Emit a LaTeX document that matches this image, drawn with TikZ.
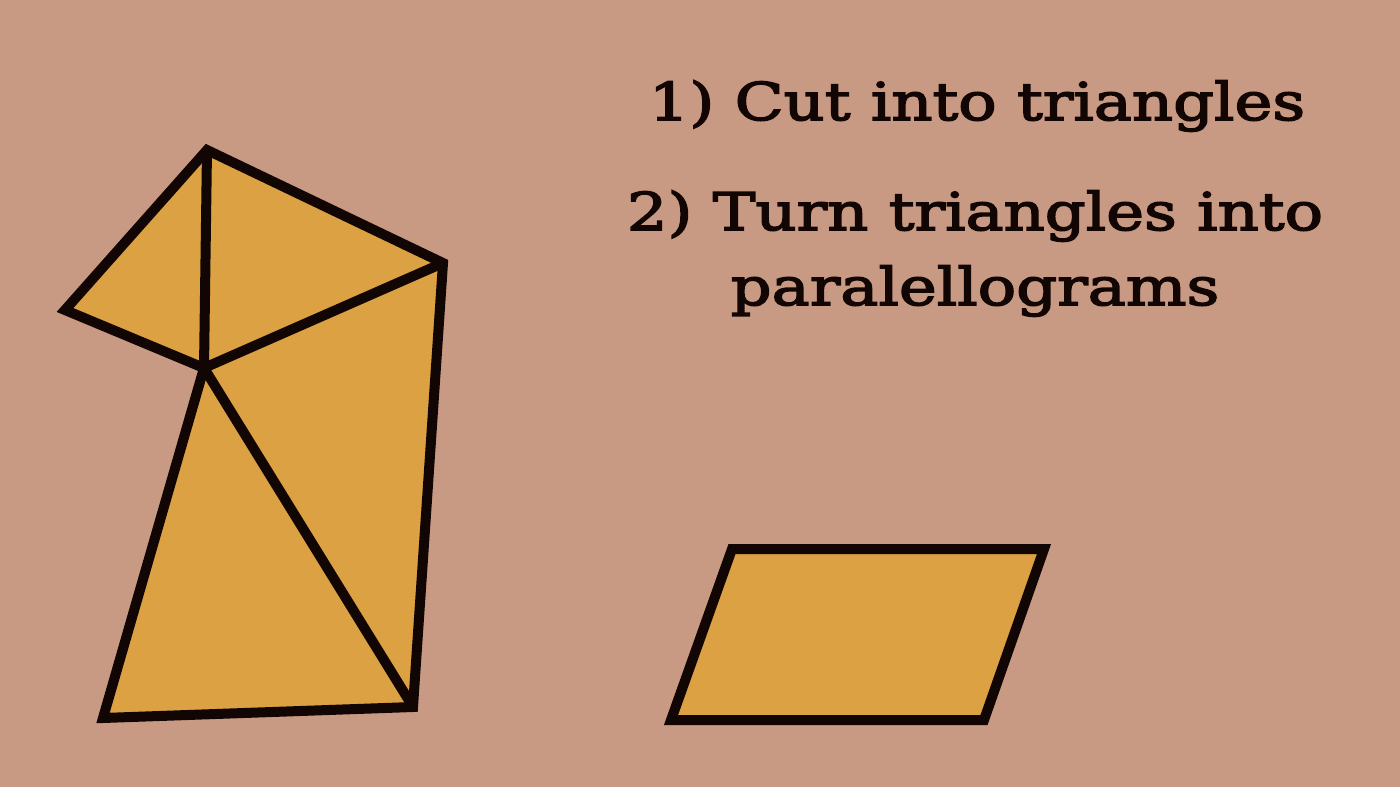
\documentclass[tikz,border=0pt]{standalone}
\usepackage{fontspec}
\setmainfont{DejaVu Serif}[FakeStretch=1.23, FakeBold=3]
\definecolor{paper}{RGB}{201,154,131}
\definecolor{piece}{RGB}{219,161,66}
\definecolor{ink}{RGB}{18,6,5}
\tikzset{
  piecebox/.style={fill=piece, draw=ink, line width=10pt, line join=miter},
  inkedge/.style={draw=ink, line width=10pt},
  steptext/.style={text=ink, anchor=base, inner sep=0pt, font=\fontsize{52}{60}\selectfont}
}
\begin{document}
\begin{tikzpicture}[x=1pt,y=-1pt]
\fill[paper] (0,0) rectangle (1400,787);
\useasboundingbox (0,0) rectangle (1400,787);
% left figure vertices
\coordinate (A) at (207,150);
\coordinate (B) at (443,263);
\coordinate (C) at (65,310);
\coordinate (D) at (204,368);
\coordinate (E) at (413,707);
\coordinate (F) at (103,718);
\draw[piecebox] (A) -- (B) -- (E) -- (F) -- (D) -- (C) -- cycle;
\draw[inkedge] (A) -- (D) -- (B);
\draw[inkedge] (D) -- (E);
% parallelogram
\coordinate (P1) at (732,549);
\coordinate (P2) at (1044,549);
\coordinate (P3) at (984,720);
\coordinate (P4) at (671,720);
\draw[piecebox] (P1) -- (P2) -- (P3) -- (P4) -- cycle;
% text
\node[steptext] (t1) at (977,120) {1) Cut into triangles};
\node[steptext] (t2) at (975,230) {2) Turn triangles into};
\node[steptext] (t3) at (975,305) {paralellograms};
\end{tikzpicture}
\end{document}
